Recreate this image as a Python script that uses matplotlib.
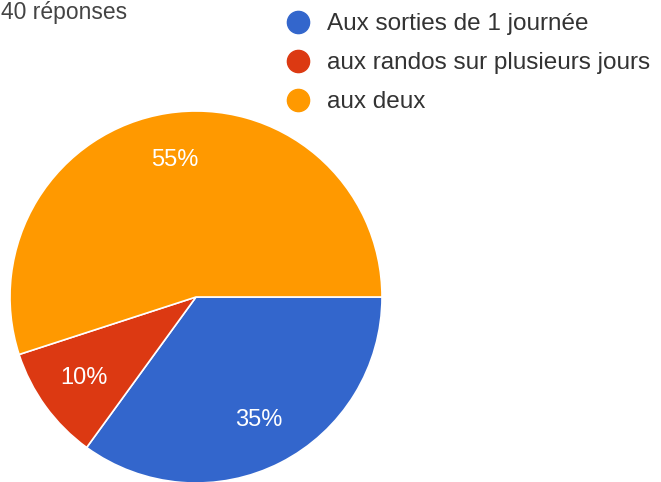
import matplotlib.pyplot as plt
from matplotlib.lines import Line2D

# data
labels = ["Aux sorties de 1 journée", "aux randos sur plusieurs jours", "aux deux"]
shares = [35, 10, 55]
colors = ["#3366CC", "#DC3912", "#FF9900"]
title = "40 réponses"

W, H = 661, 482
plt.rcParams['font.family'] = ['Liberation Sans', 'DejaVu Sans']

fig = plt.figure(figsize=(W / 100, H / 100), dpi=100)

# pie axes: circle centre (196, 297) px, radius 186 px
cx, cy, r = 196, 297, 186
ax = fig.add_axes([(cx - r) / W, (H - cy - r) / H, 2 * r / W, 2 * r / H])
ax.pie(shares, colors=colors, startangle=0, counterclock=False,
       autopct='%d%%', pctdistance=0.745,
       wedgeprops=dict(edgecolor='white', linewidth=1.2),
       textprops=dict(color='white', fontsize=17))
ax.set_xlim(-1, 1)
ax.set_ylim(-1, 1)
ax.set_aspect('equal')
ax.axis('off')

# title at the top-left corner
fig.text(1 / W, 1 - 19 / H, title, fontsize=16.5, color='#444444', va='baseline')

# legend drawn by hand
lx, tx = 298, 327
baselines = [30, 69, 108]
for lab, col, b in zip(labels, colors, baselines):
    fig.add_artist(Line2D([lx / W], [1 - (b - 8) / H], marker='o', markersize=16,
                          color=col, transform=fig.transFigure))
    fig.text(tx / W, 1 - b / H, lab, fontsize=17.5, color='#333333', va='baseline')

fig.savefig('out.png', dpi=100)
